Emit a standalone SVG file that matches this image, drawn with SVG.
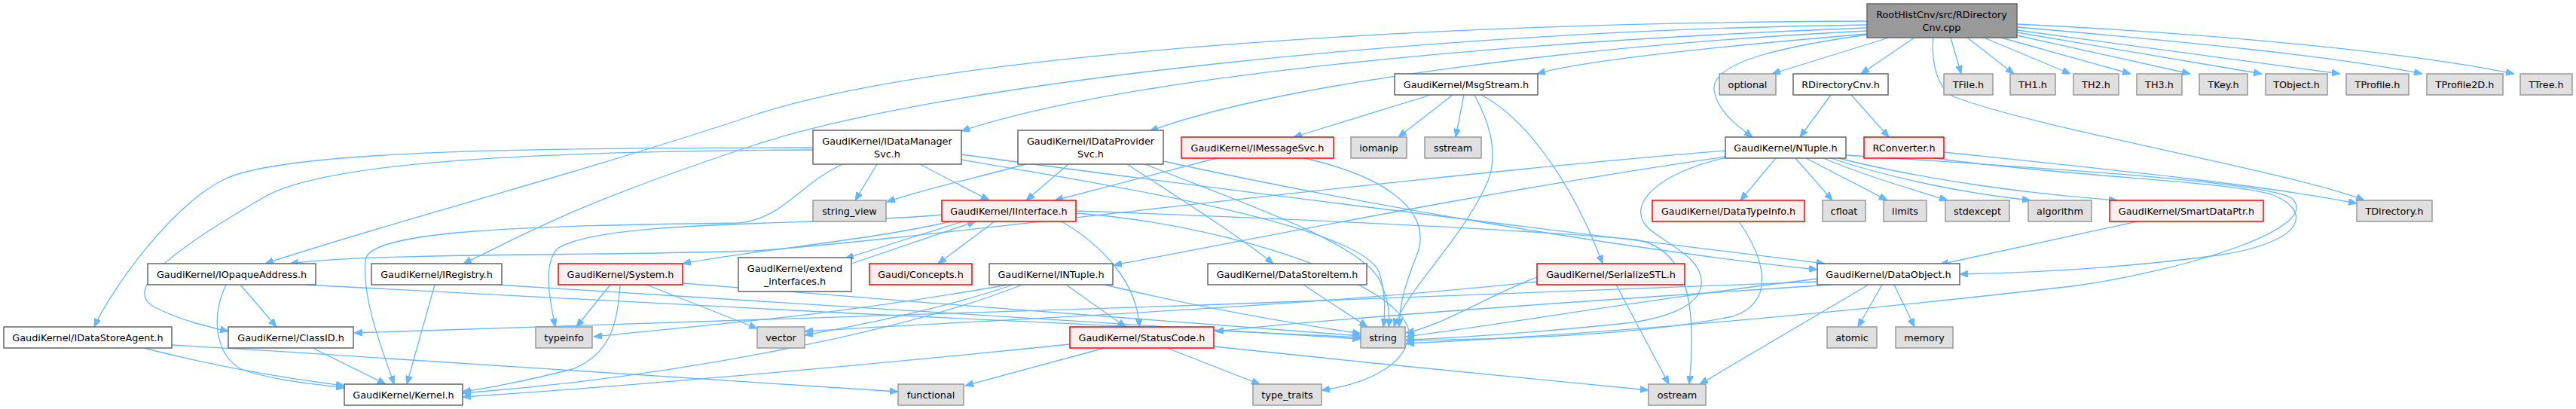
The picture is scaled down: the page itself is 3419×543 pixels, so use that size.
<svg xmlns="http://www.w3.org/2000/svg" width="3419" height="543" viewBox="0 0 3419 543">
<style>
text{font-family:"DejaVu Sans","Liberation Sans",sans-serif;font-size:12.8px;text-anchor:middle;fill:#000}
.n rect{fill:#fff;stroke:#666;stroke-width:1.5}
.r rect{fill:#fff0f0;stroke:#ff0000;stroke-width:1.5}
.s rect{fill:#e0e0e0;stroke:#999;stroke-width:1.5}
.root rect{fill:#999;stroke:#666;stroke-width:1.5}
#edges path{fill:none;stroke:#63b8ff;stroke-width:1.3;marker-end:url(#ah)}
</style>
<defs>
<marker id="ah" viewBox="0 0 11 9" refX="11" refY="4.5" markerWidth="11" markerHeight="9" markerUnits="userSpaceOnUse" orient="auto"><path d="M0,0 L11,4.5 L0,9 z" fill="#63b8ff" stroke="#63b8ff"/></marker>
</defs>
<rect width="3419" height="543" fill="#fff"/>
<g id="edges">
<!-- root -->
<path d="M2478,28 C1900,30 1250,70 1000,153 S500,300 352,350"/>
<path d="M2478,33 C1900,40 1250,110 1000,193 S700,310 615,350"/>
<path d="M2478,37 C2000,55 1500,100 1276,174"/>
<path d="M2478,41 C2100,60 1700,110 1526,174"/>
<path d="M2478,45 C2300,60 2100,80 2040,98"/>
<path d="M2507,50 L2352,98"/>
<path d="M2541,50 L2470,98"/>
<path d="M2589,50 L2603,98"/>
<path d="M2611,50 L2673,98"/>
<path d="M2633,50 L2748,98"/>
<path d="M2656,50 L2828,98"/>
<path d="M2677,47 L2907,98"/>
<path d="M2677,43 L3002,98"/>
<path d="M2677,40 L3106,98"/>
<path d="M2677,36 C2900,55 3100,75 3215,98"/>
<path d="M2677,32 C2950,45 3200,70 3337,98"/>
<path d="M2478,46 C2380,60 2270,80 2275,120 C2280,150 2310,170 2326,182"/>
<path d="M2566,50 C2563,80 2570,115 2592,128 C2700,170 3050,230 3138,266"/>
<!-- MsgStream -->
<path d="M1899,126 L1717,182"/>
<path d="M1928,126 L1856,182"/>
<path d="M1943,126 L1932,182"/>
<path d="M1957,126 C1975,160 1990,200 1975,240 C1940,320 1870,380 1850,434"/>
<path d="M1966,126 C2030,160 2090,250 2127,350"/>
<!-- RDirectoryCnv -->
<path d="M2430,126 L2389,182"/>
<path d="M2457,126 L2507,182"/>
<!-- RConverter -->
<path d="M2580,202 C2800,225 3000,245 3128,270"/>
<path d="M2567,210 C2750,235 2950,240 3015,258 C3070,280 3060,320 2950,338 C2820,356 2700,362 2601,364"/>
<!-- IDataManagerSvc -->
<path d="M1079,196 C700,196 380,200 300,237 C230,270 150,380 125,434"/>
<path d="M1079,199 C700,201 430,215 350,262 C250,320 150,385 210,410 C240,425 270,432 303,440"/>
<path d="M1164,218 L1135,266"/>
<path d="M1221,218 L1313,266"/>
<path d="M1118,218 C1060,245 1040,290 980,296 C700,300 490,305 485,345 C480,400 510,470 523,510"/>
<path d="M1276,205 C1600,250 2100,310 2422,350"/>
<path d="M1276,212 C1500,250 1800,300 1830,360 C1840,390 1838,420 1836,434"/>
<!-- IDataProviderSvc -->
<path d="M1362,218 C1300,235 1230,250 1177,268"/>
<path d="M1418,218 L1362,266"/>
<path d="M1496,218 C1560,260 1640,310 1690,350"/>
<path d="M1544,214 C1800,270 2150,330 2412,358"/>
<path d="M1520,218 C1650,270 1800,320 1830,370 C1845,400 1845,420 1843,434"/>
<!-- IMessageSvc -->
<path d="M1615,210 L1400,266"/>
<path d="M1732,210 C1860,240 1900,290 1880,340 C1860,390 1858,410 1857,434"/>
<!-- IInterface -->
<path d="M1320,294 L1245,350"/>
<path d="M1278,294 L1122,343"/>
<path d="M1130,350 L1295,294"/>
<path d="M1262,294 C1150,320 1000,332 906,350"/>
<path d="M1409,294 C1470,330 1510,380 1512,434"/>
<path d="M1250,285 C1100,300 800,290 740,330 C720,350 730,400 737,434"/>
<path d="M1428,283 C1650,300 1860,380 1870,440 C1870,490 1800,512 1754,518"/>
<path d="M1428,280 C1700,290 2000,303 2170,318 C2250,330 2250,430 2242,510"/>
<!-- NTuple -->
<path d="M2357,210 L2310,266"/>
<path d="M2383,210 L2432,266"/>
<path d="M2397,210 L2505,266"/>
<path d="M2420,210 C2480,235 2540,252 2585,266"/>
<path d="M2430,210 C2520,240 2620,258 2695,266"/>
<path d="M2440,210 C2560,240 2700,258 2810,266"/>
<path d="M2450,206 C2750,225 3000,242 3040,262 C3090,300 2900,360 2750,380 C2400,420 2100,445 1866,456"/>
<path d="M2290,200 C1800,240 1200,320 1000,333 C800,340 500,335 385,350"/>
<path d="M2290,208 C2000,250 1700,310 1478,352"/>
<path d="M2292,209 C2200,230 2160,270 2185,300 C2205,322 2262,340 2258,378 C2255,410 2200,425 2150,430 C2050,440 1950,448 1866,451"/>
<!-- INTuple -->
<path d="M1357,378 C1200,440 900,500 614,522"/>
<path d="M1338,378 C1100,420 950,430 788,447"/>
<path d="M1345,378 C1250,410 1150,430 1068,445"/>
<path d="M1415,378 L1494,434"/>
<path d="M1466,378 C1600,410 1720,430 1806,443"/>
<!-- StatusCode -->
<path d="M1420,457 C1100,490 800,515 614,527"/>
<path d="M1466,462 L1281,512"/>
<path d="M1549,462 L1672,510"/>
<path d="M1611,460 C1800,480 2050,505 2188,518"/>
<!-- DataStoreItem -->
<path d="M1730,378 L1815,434"/>
<!-- SerializeSTL -->
<path d="M2145,378 L2215,510"/>
<path d="M2040,368 C1980,390 1920,430 1866,442"/>
<path d="M2040,374 C1700,410 1300,425 1068,440"/>
<!-- DataObject -->
<path d="M2498,378 L2466,434"/>
<path d="M2514,378 L2541,434"/>
<path d="M2480,378 L2256,510"/>
<path d="M2412,370 C2200,395 2000,430 1866,447"/>
<path d="M2412,374 C1800,400 1000,425 470,442"/>
<path d="M2430,378 C2100,400 1800,420 1613,440"/>
<!-- SmartDataPtr / DataTypeInfo -->
<path d="M2837,294 L2575,351"/>
<path d="M2308,294 C2340,340 2360,400 2300,420 C2150,450 1950,450 1866,452"/>
<!-- left side -->
<path d="M319,378 L367,434"/>
<path d="M300,378 C280,420 285,470 320,490 C360,505 420,510 457,515"/>
<path d="M405,378 C800,400 1400,430 1806,448"/>
<path d="M577,378 L540,510"/>
<path d="M660,378 C1000,400 1500,430 1806,450"/>
<path d="M415,462 L512,510"/>
<path d="M191,462 C300,490 400,505 457,512"/>
<path d="M228,458 C600,480 1000,505 1192,520"/>
<path d="M810,378 L765,434"/>
<path d="M823,378 C820,430 810,470 760,490 C700,505 650,515 614,520"/>
<path d="M858,378 L1005,436"/>
<path d="M906,376 C1200,400 1600,430 1806,446"/>
</g>
<g id="root" class="root"><rect x="2478" y="5" width="199" height="45"/><text x="2577" y="24">RootHistCnv/src/RDirectory</text><text x="2577" y="41">Cnv.cpp</text></g>
<g id="MsgStream" class="n"><rect x="1851" y="98" width="190" height="28"/><text x="1946" y="116.5">GaudiKernel/MsgStream.h</text></g>
<g id="optional" class="s"><rect x="2282" y="98" width="75" height="28"/><text x="2319.5" y="116.5">optional</text></g>
<g id="RDirectoryCnv" class="n"><rect x="2380" y="98" width="126" height="28"/><text x="2443" y="116.5">RDirectoryCnv.h</text></g>
<g id="TFile" class="s"><rect x="2580" y="98" width="65" height="28"/><text x="2612.5" y="116.5">TFile.h</text></g>
<g id="TH1" class="s"><rect x="2668" y="98" width="60" height="28"/><text x="2698" y="116.5">TH1.h</text></g>
<g id="TH2" class="s"><rect x="2752" y="98" width="60" height="28"/><text x="2782" y="116.5">TH2.h</text></g>
<g id="TH3" class="s"><rect x="2836" y="98" width="60" height="28"/><text x="2866" y="116.5">TH3.h</text></g>
<g id="TKey" class="s"><rect x="2919" y="98" width="64" height="28"/><text x="2951" y="116.5">TKey.h</text></g>
<g id="TObject" class="s"><rect x="3007" y="98" width="82" height="28"/><text x="3048" y="116.5">TObject.h</text></g>
<g id="TProfile" class="s"><rect x="3114" y="98" width="83" height="28"/><text x="3155.5" y="116.5">TProfile.h</text></g>
<g id="TProfile2D" class="s"><rect x="3221" y="98" width="101" height="28"/><text x="3271.5" y="116.5">TProfile2D.h</text></g>
<g id="TTree" class="s"><rect x="3345" y="98" width="69" height="28"/><text x="3379.5" y="116.5">TTree.h</text></g>
<g id="IDataManagerSvc" class="n"><rect x="1079" y="173" width="197" height="45"/><text x="1177.5" y="192">GaudiKernel/IDataManager</text><text x="1177.5" y="209">Svc.h</text></g>
<g id="IDataProviderSvc" class="n"><rect x="1351" y="173" width="193" height="45"/><text x="1447.5" y="192">GaudiKernel/IDataProvider</text><text x="1447.5" y="209">Svc.h</text></g>
<g id="IMessageSvc" class="r"><rect x="1568" y="182" width="202" height="28"/><text x="1669" y="200.5">GaudiKernel/IMessageSvc.h</text></g>
<g id="iomanip" class="s"><rect x="1793" y="182" width="74" height="28"/><text x="1830" y="200.5">iomanip</text></g>
<g id="sstream" class="s"><rect x="1891" y="182" width="75" height="28"/><text x="1928.5" y="200.5">sstream</text></g>
<g id="NTuple" class="n"><rect x="2290" y="182" width="160" height="28"/><text x="2370" y="200.5">GaudiKernel/NTuple.h</text></g>
<g id="RConverter" class="r"><rect x="2474" y="182" width="106" height="28"/><text x="2527" y="200.5">RConverter.h</text></g>
<g id="string_view" class="s"><rect x="1079" y="266" width="97" height="28"/><text x="1127.5" y="284.5">string_view</text></g>
<g id="IInterface" class="r"><rect x="1250" y="266" width="178" height="28"/><text x="1339" y="284.5">GaudiKernel/IInterface.h</text></g>
<g id="DataTypeInfo" class="r"><rect x="2193" y="266" width="202" height="28"/><text x="2294" y="284.5">GaudiKernel/DataTypeInfo.h</text></g>
<g id="cfloat" class="s"><rect x="2419" y="266" width="57" height="28"/><text x="2447.5" y="284.5">cfloat</text></g>
<g id="limits" class="s"><rect x="2500" y="266" width="57" height="28"/><text x="2528.5" y="284.5">limits</text></g>
<g id="stdexcept" class="s"><rect x="2582" y="266" width="85" height="28"/><text x="2624.5" y="284.5">stdexcept</text></g>
<g id="algorithm" class="s"><rect x="2692" y="266" width="84" height="28"/><text x="2734" y="284.5">algorithm</text></g>
<g id="SmartDataPtr" class="r"><rect x="2800" y="266" width="204" height="28"/><text x="2902" y="284.5">GaudiKernel/SmartDataPtr.h</text></g>
<g id="TDirectory" class="s"><rect x="3128" y="266" width="100" height="28"/><text x="3178" y="284.5">TDirectory.h</text></g>
<g id="IOpaqueAddress" class="n"><rect x="196" y="350" width="223" height="28"/><text x="307.5" y="368.5">GaudiKernel/IOpaqueAddress.h</text></g>
<g id="IRegistry" class="n"><rect x="493" y="350" width="173" height="28"/><text x="579.5" y="368.5">GaudiKernel/IRegistry.h</text></g>
<g id="System" class="r"><rect x="741" y="350" width="165" height="28"/><text x="823.5" y="368.5">GaudiKernel/System.h</text></g>
<g id="extend_interfaces" class="n"><rect x="980" y="342" width="150" height="45"/><text x="1055" y="361">GaudiKernel/extend</text><text x="1055" y="378">_interfaces.h</text></g>
<g id="Concepts" class="r"><rect x="1154" y="350" width="136" height="28"/><text x="1222" y="368.5">Gaudi/Concepts.h</text></g>
<g id="INTuple" class="n"><rect x="1313" y="350" width="164" height="28"/><text x="1395" y="368.5">GaudiKernel/INTuple.h</text></g>
<g id="DataStoreItem" class="n"><rect x="1603" y="350" width="211" height="28"/><text x="1708.5" y="368.5">GaudiKernel/DataStoreItem.h</text></g>
<g id="SerializeSTL" class="r"><rect x="2040" y="350" width="196" height="28"/><text x="2138" y="368.5">GaudiKernel/SerializeSTL.h</text></g>
<g id="DataObject" class="n"><rect x="2412" y="350" width="189" height="28"/><text x="2506.5" y="368.5">GaudiKernel/DataObject.h</text></g>
<g id="IDataStoreAgent" class="n"><rect x="5" y="434" width="223" height="28"/><text x="116.5" y="452.5">GaudiKernel/IDataStoreAgent.h</text></g>
<g id="ClassID" class="n"><rect x="303" y="434" width="166" height="28"/><text x="386" y="452.5">GaudiKernel/ClassID.h</text></g>
<g id="typeinfo" class="s"><rect x="711" y="434" width="75" height="28"/><text x="748.5" y="452.5">typeinfo</text></g>
<g id="vector" class="s"><rect x="1005" y="434" width="63" height="28"/><text x="1036.5" y="452.5">vector</text></g>
<g id="StatusCode" class="r"><rect x="1420" y="434" width="191" height="28"/><text x="1515.5" y="452.5">GaudiKernel/StatusCode.h</text></g>
<g id="string" class="s"><rect x="1806" y="434" width="59" height="28"/><text x="1835.5" y="452.5">string</text></g>
<g id="atomic" class="s"><rect x="2425" y="434" width="66" height="28"/><text x="2458" y="452.5">atomic</text></g>
<g id="memory" class="s"><rect x="2516" y="434" width="76" height="28"/><text x="2554" y="452.5">memory</text></g>
<g id="Kernel" class="n"><rect x="457" y="510" width="157" height="28"/><text x="535.5" y="528.5">GaudiKernel/Kernel.h</text></g>
<g id="functional" class="s"><rect x="1192" y="510" width="87" height="28"/><text x="1235.5" y="528.5">functional</text></g>
<g id="type_traits" class="s"><rect x="1663" y="510" width="91" height="28"/><text x="1708.5" y="528.5">type_traits</text></g>
<g id="ostream" class="s"><rect x="2188" y="510" width="76" height="28"/><text x="2226" y="528.5">ostream</text></g>
</svg>
